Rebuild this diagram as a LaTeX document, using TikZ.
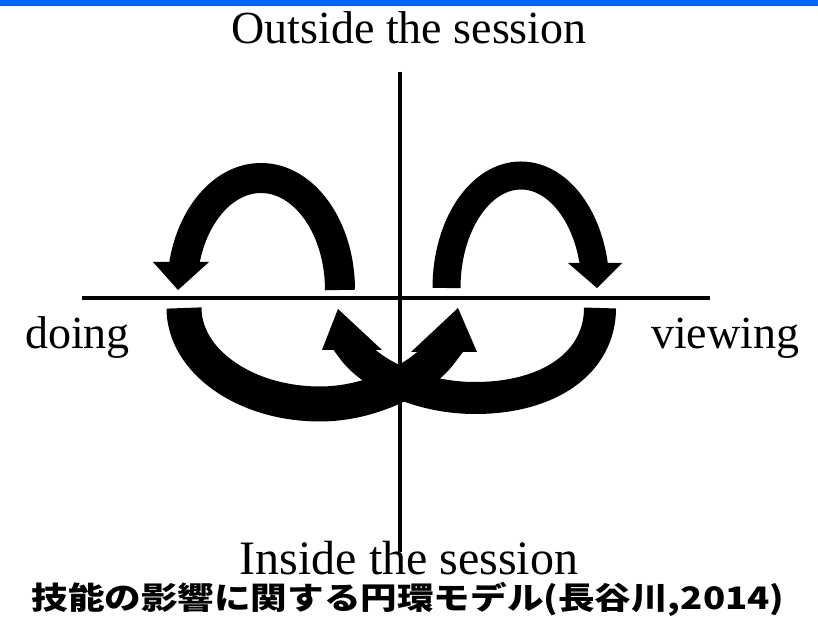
\documentclass[tikz,border=0pt]{standalone}
\usepackage{fontspec}
\setmainfont{Liberation Serif}
\newfontfamily\jp{Noto Sans CJK JP}
\definecolor{topblue}{RGB}{0,102,255}
\begin{document}
\begin{tikzpicture}[x=1pt,y=1pt,
  axis/.style={line width=4.5pt},
  lbl/.style={inner sep=0pt, font=\fontsize{46}{50}\selectfont},
  jplbl/.style={inner sep=0pt, font={\jp\bfseries\fontsize{31}{34}\selectfont}},
  headfill/.style={fill=black}]
\useasboundingbox (0,0) rectangle (818,616);
\fill[topblue] (0,610) rectangle (818,616);
% axes
\coordinate (hl) at (82,318);
\coordinate (hr) at (710,318);
\coordinate (vt) at (400,544);
\coordinate (vb) at (400,64);
\draw[axis] (hl) -- (hr);
\draw[axis] (vt) -- (vb);
% labels
\node[lbl, anchor=base] (outside) at (409,572) {Outside the session};
\node[lbl, anchor=base, font=\fontsize{48}{52}\selectfont] (inside) at (409,42) {Inside the session};
\node[lbl, anchor=base west] (doing) at (25,267) {doing};
\node[lbl, anchor=base west] (viewing) at (651,267) {viewing};
\node[jplbl, anchor=base] (caption) at (408,7) {\scalebox{1.18}[1]{技能の影響に関する円環モデル(長谷川,2014)}};
% upper left arrow
\draw[line width=30pt] (340,326) arc[start angle=0, end angle=168, x radius=79, y radius=112];
\fill[headfill] (153,354) -- (209,354) -- (178,326) -- cycle;
% upper right arrow
\draw[line width=28pt] (446.5,328) arc[start angle=180, end angle=10, x radius=74.5, y radius=112.5];
\fill[headfill] (568,353) -- (622,353) -- (597,328) -- cycle;
% lower left band
\begin{scope}
\clip (0,0) -- (818,0) -- (818,264) -- (400,264) -- (400,330) -- (0,330) -- cycle;
\draw[line width=35pt] (184,308) .. controls (184,255) and (245,212) .. (320,212) .. controls (372,212) and (423,239) .. (441,264) -- (453,280);
\end{scope}
\fill[headfill] (411,264) -- (477,264) -- (458,308) -- cycle;
% lower right band
\begin{scope}
\clip (818,0) -- (0,0) -- (0,266) -- (400,266) -- (400,330) -- (818,330) -- cycle;
\draw[line width=32pt] (600,308) .. controls (600,254) and (550,218) .. (475,218) .. controls (420,218) and (371.5,242) .. (353.5,266) -- (341.5,282);
\end{scope}
\fill[headfill] (322,266) -- (382,266) -- (338,307) -- cycle;
\end{tikzpicture}
\end{document}
